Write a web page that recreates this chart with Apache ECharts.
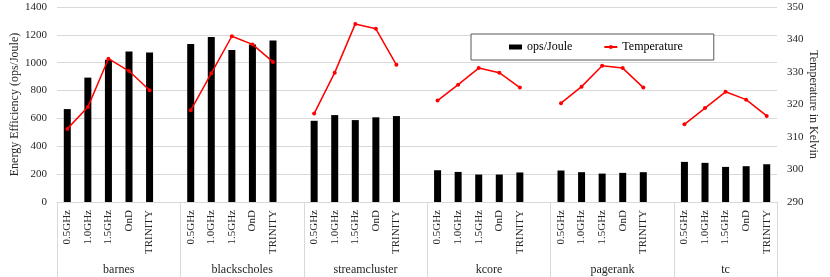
<!DOCTYPE html>
<html>
<head>
<meta charset="utf-8">
<script src="https://cdn.jsdelivr.net/npm/echarts@6/dist/echarts.min.js"></script>
<style>html,body{margin:0;padding:0;background:#fff}#c{width:830px;height:277px}</style>
</head>
<body>
<div id="c"></div>
<script>
// ---- data ----
var groups = ['barnes', 'blackscholes', 'streamcluster', 'kcore', 'pagerank', 'tc'];
var settings = ['0.5GHz', '1.0GHz', '1.5GHz', 'OnD', 'TRINITY'];
var opsBarnes        = [667, 893, 1022, 1080, 1073];
var opsBlackscholes  = [1135, 1184, 1092, 1130, 1159];
var opsStreamcluster = [583, 624, 588, 608, 617];
var opsKcore         = [228, 216, 197, 197, 212];
var opsPagerank      = [226, 214, 204, 209, 214];
var opsTc            = [288, 281, 252, 257, 271];
var tempBarnes        = [312.5, 319.2, 334.1, 330.3, 324.4];
var tempBlackscholes  = [318.2, 329.6, 341.0, 338.5, 333.1];
var tempStreamcluster = [317.2, 329.8, 344.8, 343.3, 332.2];
var tempKcore         = [321.2, 326.1, 331.2, 329.8, 325.2];
var tempPagerank      = [320.4, 325.5, 331.9, 331.2, 325.2];
var tempTc            = [313.9, 318.9, 323.9, 321.5, 316.5];
var leftTicks = {min: 0, max: 1400, interval: 200};
var rightTicks = {min: 290, max: 350, interval: 10};

var opsAll = [opsBarnes, opsBlackscholes, opsStreamcluster, opsKcore, opsPagerank, opsTc];
var tempAll = [tempBarnes, tempBlackscholes, tempStreamcluster, tempKcore, tempPagerank, tempTc];

// build flat category axis with a blank slot between groups
var cats = [], opsData = [], tempData = [], groupCenter = {}, groupStarts = [];
groups.forEach(function (g, gi) {
  var start = cats.length;
  groupStarts.push(start);
  settings.forEach(function (s, si) {
    cats.push(s);
    opsData.push(opsAll[gi][si]);
    tempData.push(tempAll[gi][si]);
  });
  if (gi < groups.length - 1) { cats.push(''); opsData.push(null); tempData.push(null); }
  var size = cats.length - start;
  groupCenter[String(start + size / 2)] = g;
});
var nCats = cats.length;

var FONT = 'Liberation Serif';
var TXT = '#262626';
var GRID = '#d9d9d9';

var chart = echarts.init(document.getElementById('c'));
chart.setOption({
  animation: false,
  textStyle: {fontFamily: FONT},
  grid: {left: 57, right: 53, top: 7, bottom: 75, containLabel: false, outerBoundsMode: 'none'},
  legend: {
    left: 471, top: 34,
    padding: [7, 31, 7, 38],
    itemGap: 31,
    itemWidth: 13, itemHeight: 5,
    borderColor: '#595959', borderWidth: 1,
    backgroundColor: '#fff',
    textStyle: {fontFamily: FONT, fontSize: 12, color: '#000'},
    data: [{name: 'ops/Joule', icon: 'rect'}, {name: 'Temperature'}]
  },
  xAxis: [
    {
      type: 'category', data: cats, position: 'bottom',
      axisLine: {show: true, lineStyle: {color: GRID}},
      axisTick: {show: false},
      axisLabel: {interval: 0, rotate: 90, margin: 8, fontSize: 11, color: TXT, fontFamily: FONT},
      splitLine: {show: false}
    },
    {
      type: 'category', data: cats, position: 'bottom',
      axisLine: {show: false},
      axisTick: {show: true, length: 76, lineStyle: {color: GRID},
        interval: function (i) { return groupStarts.indexOf(i) >= 0; }},
      axisLabel: {show: false},
      splitLine: {show: false}
    },
    {
      type: 'value', min: 0, max: nCats, interval: 0.5, position: 'bottom',
      axisLine: {show: false}, axisTick: {show: false}, splitLine: {show: false},
      axisLabel: {
        margin: 62, fontSize: 12, color: TXT, fontFamily: FONT,
        showMinLabel: true, showMaxLabel: true,
        formatter: function (v) { return groupCenter[String(v)] || ''; }
      }
    }
  ],
  yAxis: [
    {
      type: 'value', min: leftTicks.min, max: leftTicks.max, interval: leftTicks.interval,
      name: 'Energy Efficiency (ops/Joule)', nameLocation: 'middle', nameRotate: 90, nameGap: 36,
      nameMoveOverlap: false,
      nameTextStyle: {fontSize: 12, color: TXT, fontFamily: FONT},
      axisLine: {show: false}, axisTick: {show: false},
      axisLabel: {margin: 10, fontSize: 11, color: TXT, fontFamily: FONT,
        formatter: function (v) { return String(v); }},
      splitLine: {show: true, lineStyle: {color: GRID, width: 1}}
    },
    {
      type: 'value', position: 'right', min: rightTicks.min, max: rightTicks.max, interval: rightTicks.interval,
      name: 'Temperature in Kelvin', nameLocation: 'middle', nameRotate: -90, nameGap: 30,
      nameMoveOverlap: false,
      nameTextStyle: {fontSize: 12, color: TXT, fontFamily: FONT},
      axisLine: {show: false}, axisTick: {show: false},
      axisLabel: {margin: 10, fontSize: 11, color: TXT, fontFamily: FONT,
        formatter: function (v) { return String(v); }},
      splitLine: {show: false}
    }
  ],
  series: [
    {
      name: 'ops/Joule', type: 'bar', xAxisIndex: 0, yAxisIndex: 0,
      data: opsData, barWidth: 7, itemStyle: {color: '#000'}
    },
    {
      name: 'Temperature', type: 'line', xAxisIndex: 0, yAxisIndex: 1,
      data: tempData, connectNulls: false,
      symbol: 'circle', symbolSize: 4,
      lineStyle: {color: '#ff0000', width: 1.5},
      itemStyle: {color: '#ff0000'}
    }
  ]
});
</script>
</body>
</html>
